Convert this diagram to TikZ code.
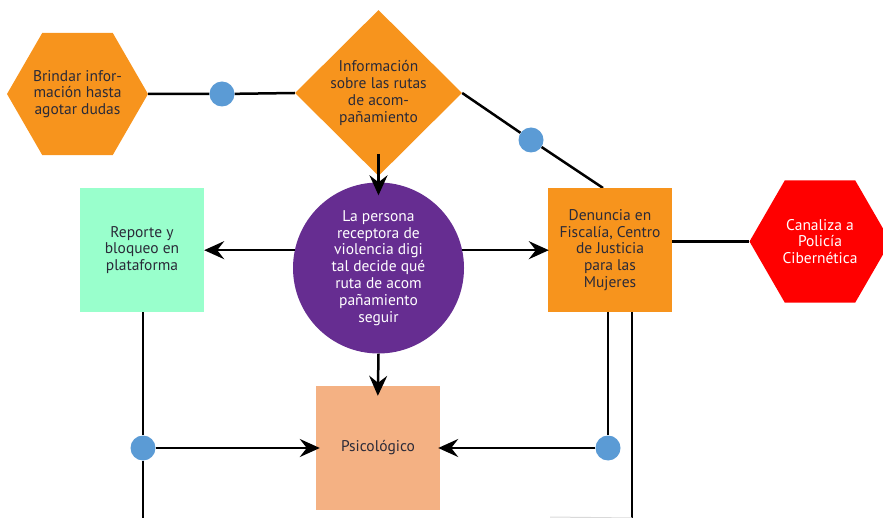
\documentclass[tikz,border=0pt]{standalone}
\usepackage{fontspec}
\setmainfont{PT Sans}
\usetikzlibrary{shapes.geometric,arrows.meta}
\pgfdeclarelayer{bg}
\pgfsetlayers{bg,main}
\definecolor{orng}{HTML}{F7941D}
\definecolor{mint}{HTML}{99FFCC}
\definecolor{purp}{HTML}{662D91}
\definecolor{salm}{HTML}{F4B183}
\definecolor{redd}{HTML}{FF0000}
\definecolor{bdot}{HTML}{5B9BD5}
\definecolor{txt}{HTML}{2A2A38}
\tikzset{
  base/.style={inner sep=0pt, align=center, font=\fontsize{15.5}{16.8}\selectfont, text=txt},
  hexo/.style={base, shape=regular polygon, regular polygon sides=6, minimum size=141pt, inner sep=-12pt, fill=orng},
  hexr/.style={base, shape=regular polygon, regular polygon sides=6, minimum size=141pt, inner sep=-12pt, fill=redd, text=white},
  diam/.style={base, shape=diamond, minimum width=167pt, minimum height=166pt, inner sep=-6pt, fill=orng},
  circ/.style={base, circle, minimum size=171pt, fill=purp, text=white},
  sq/.style={base, rectangle, minimum size=124pt},
  dotb/.style={circle, fill=bdot, minimum size=25pt, inner sep=0pt},
  ln/.style={line width=2.5pt, black},
  arr/.style={ln, -{Stealth[length=20pt,width=18pt,inset=7pt]}}
}
\begin{document}
\begin{tikzpicture}[x=1pt,y=-1pt]
\useasboundingbox (0,0) rectangle (883,518);
\node[hexo] (brindar) at (77.5,94) {Brindar infor-\\mación hasta\\agotar dudas};
\node[diam] (info) at (378.5,93) {Información\\sobre las rutas\\de acom-\\pañamiento};
\node[circ] (decide) at (378.5,268) {La persona\\receptora de\\violencia digi\\tal decide qué\\ruta de acom\\pañamiento\\seguir};
\node[sq, fill=mint] (reporte) at (142,250) {Reporte y\\bloqueo en\\plataforma};
\node[sq, fill=orng] (denuncia) at (610,250) {Denuncia en\\Fiscalía, Centro\\de Justicia\\para las\\Mujeres};
\node[hexr] (policia) at (820,241.5) {Canaliza a\\Policía\\Cibernética};
\node[sq, fill=salm] (psico) at (378,448) {Psicológico};
\node[dotb] (d1) at (222,94) {};
\node[dotb] (d2) at (531,140) {};
\node[dotb] (d3) at (143,448) {};
\node[dotb] (d4) at (608,448) {};
\coordinate (astart) at (378.5,154);
\coordinate (dtop) at (603,188);
\coordinate (lb) at (143,518);
\coordinate (rb) at (632,518);
\coordinate (gl) at (550,517);
\begin{pgfonlayer}{bg}
\draw[ln] (brindar.east) -- (d1) -- (info.west);
\draw[ln] (info.east) -- (d2) -- (dtop);
\draw[ln] (denuncia.east |- policia.west) -- (policia.west);
\draw[ln] (reporte.south -| d3) -- (d3) -- (lb);
\draw[ln] (denuncia.south -| d4) -- (d4);
\draw[ln] (denuncia.south -| rb) -- (rb);
\draw[gray!30, line width=1pt] (gl) -- (rb);
\end{pgfonlayer}
\draw[arr, shorten >=-13pt] (astart) -- (decide.north);
\draw[arr] (decide.168) -- (reporte.east |- decide.168);
\draw[arr, shorten >=-1pt] (decide.12) -- (denuncia.west |- decide.12);
\draw[arr, shorten >=-10pt] (decide.south) -- (psico.north);
\draw[arr, shorten >=-4pt] (d3) -- (psico.west);
\draw[arr, shorten >=-2pt] (d4) -- (psico.east);
\end{tikzpicture}
\end{document}
